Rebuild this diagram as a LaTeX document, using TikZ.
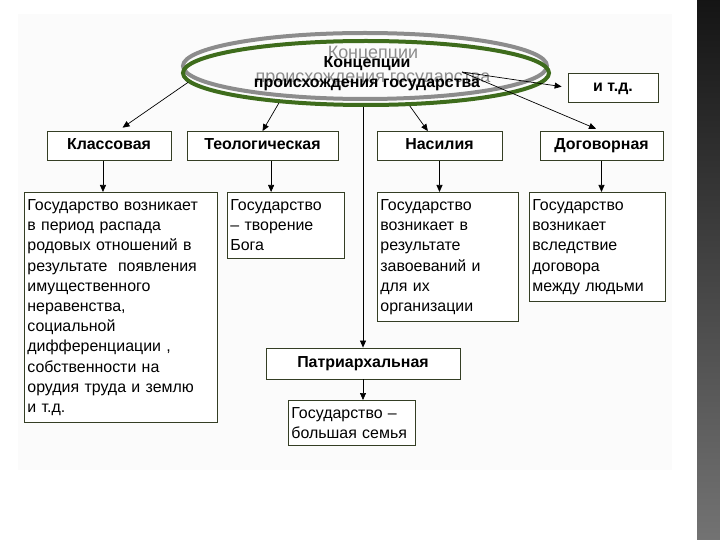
\documentclass[tikz,border=0pt]{standalone}
\usepackage{fontspec}
\setmainfont{Liberation Sans}
\usepackage{xcolor}
\usetikzlibrary{shapes.geometric, arrows.meta, calc}
\definecolor{edge}{RGB}{52,62,36}
\definecolor{ovalgreen}{RGB}{62,108,28}
\definecolor{ovalgray}{RGB}{140,140,140}
\tikzset{
  hdr/.style={rectangle, draw=edge, line width=0.8bp, fill=white,
              font=\bfseries\fontsize{16}{19}\selectfont,
              text height=11.5bp, text depth=3.5bp,
              minimum height=29bp, inner sep=0pt},
  txt/.style={rectangle, draw=edge, line width=0.8bp, fill=white,
              anchor=north west, align=left, inner xsep=3bp, inner ysep=7bp,
              font=\fontsize{16}{20.3}\selectfont},
  arr/.style={-{Triangle[length=7bp, width=6bp]}, line width=0.7bp},
}

\begin{document}
\begin{tikzpicture}[x=1bp, y=-1bp,
    oval/.style={ellipse, line width=4bp, inner sep=0pt},
  ]
  \useasboundingbox (0,0) rectangle (720,540);
  \fill[black!1.5] (18,14) rectangle (672,470);
  \shade[top color=black!92, bottom color=black!55] (697,0) rectangle (720,540);
  % title ovals
  \node[oval, draw=ovalgray, minimum width=364bp, minimum height=66bp] (ellg) at (365,66) {};
  \node[text=ovalgray, align=center, font=\fontsize{18}{24}\selectfont] (ttlg) at (373,66)
       {Концепции\\происхождения государства};
  \node[oval, draw=ovalgreen, minimum width=366bp, minimum height=64bp] (ell) at (366,73) {};
  \node[align=center, font=\bfseries\fontsize{16}{20}\selectfont] (ttl) at (367,74)
       {Концепции\\происхождения государства};
  \coordinate (hub) at (462,72);
  % concepts
  \node[hdr, minimum width=124bp] (cls) at (109,146)   {Классовая};
  \node[hdr, minimum width=151bp] (teo) at (262.5,146) {Теологическая};
  \node[hdr, minimum width=125bp] (nas) at (439.5,146) {Насилия};
  \node[hdr, minimum width=123bp] (dog) at (601.5,146) {Договорная};
  \node[hdr, minimum width=90bp]  (etc) at (613,87.5)  {и т.д.};
  \node[hdr, minimum width=194bp, minimum height=31bp] (pat) at (363,363.5) {Патриархальная};
  % explanations
  \node[txt, text width=187bp] (clsT) at (24,192)
       {Государство возникает\\в период распада\\родовых отношений в\\результате\ \ появления\\имущественного\\неравенства,\\социальной\\дифференциации ,\\собственности на\\орудия труда и землю\\и т.д.};
  \node[txt, text width=111bp] (teoT) at (227,192) {Государство\\– творение\\Бога};
  \node[txt, text width=135bp] (nasT) at (377,192)
       {Государство\\возникает в\\результате\\завоеваний и\\для их\\организации};
  \node[txt, text width=130bp] (dogT) at (529,192)
       {Государство\\возникает\\вследствие\\договора\\между людьми};
  \node[txt, text width=121bp] (famT) at (288,400) {Государство –\\большая семья};
  % connectors
  \draw[arr, shorten >=6bp](ell.183)--(cls.60);
  \draw[arr](ell.199)--(teo.north);
  \draw[arr](ell.323)--(nas.128);
  \draw[arr, shorten >=6bp](hub)--(etc.west);
  \draw[arr, shorten >=6bp](hub)--(dog.north);
  \draw[arr](pat.north |- ell.south)--(pat.north);
  \draw[arr](cls.248)--(cls.248 |- clsT.north);
  \draw[arr](teo.300)--(teo.300 |- teoT.north);
  \draw[arr](nas.south)--(nas.south |- nasT.north);
  \draw[arr](dog.south)--(dog.south |- dogT.north);
  \draw[arr](pat.south)--(pat.south |- famT.north);
\end{tikzpicture}
\end{document}
